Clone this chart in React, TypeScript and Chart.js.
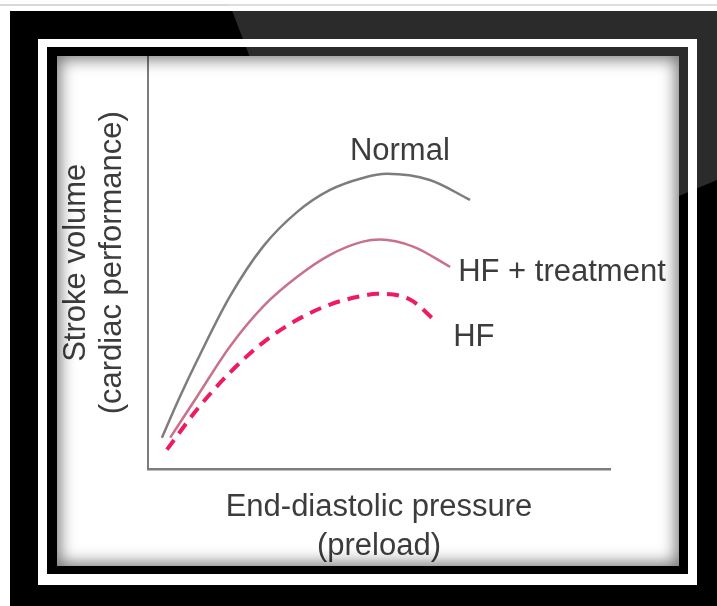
import React, { useEffect, useRef } from 'react';
import { Chart, registerables } from 'chart.js';

Chart.register(...registerables);

// ---- data ----
const seriesNames = ['Normal', 'HF + treatment', 'HF'];

const normalX = [3.0, 6.9, 10.6, 17.7, 24.9, 32.3, 39.4, 46.5, 51.7, 61.0, 69.7];
const normalY = [7.7, 17.6, 26.3, 41.8, 53.9, 62.3, 67.6, 70.5, 71.5, 70.0, 65.2];

const treatX = [4.8, 10.6, 17.7, 24.9, 32.3, 39.4, 46.5, 50.2, 57.4, 65.4];
const treatY = [7.7, 17.6, 29.7, 39.4, 46.6, 51.9, 55.1, 55.6, 53.9, 49.0];

const hfX = [4.1, 10.6, 17.7, 24.9, 32.3, 39.4, 46.5, 49.6, 56.7, 62.6];
const hfY = [4.8, 14.5, 23.4, 30.7, 36.2, 39.9, 42.0, 42.5, 41.1, 35.5];

const xAxisTitle = ['End-diastolic pressure', '(preload)'];
const yAxisTitle = ['Stroke volume', '(cardiac performance)'];

const FONT = '"Liberation Sans", Arial, Helvetica, sans-serif';
const TEXT = '#3c3c3c';

const toPoints = (xs: number[], ys: number[]) => xs.map((x, i) => ({ x, y: ys[i] }));

const labelSpecs = [
  { ds: 0, idx: 8, dx: 13, dy: -22, align: 'center' as CanvasTextAlign },
  { ds: 1, idx: 9, dx: 8, dy: 6, align: 'left' as CanvasTextAlign },
  { ds: 2, idx: 9, dx: 16, dy: 15, align: 'left' as CanvasTextAlign },
];

const curveLabels = {
  id: 'curveLabels',
  afterDatasetsDraw(chart: any) {
    const ctx = chart.ctx as CanvasRenderingContext2D;
    ctx.save();
    ctx.font = `31px ${FONT}`;
    ctx.fillStyle = TEXT;
    ctx.textBaseline = 'middle';
    labelSpecs.forEach((s) => {
      const pt = chart.getDatasetMeta(s.ds).data[s.idx];
      if (!pt) return;
      ctx.textAlign = s.align;
      ctx.fillText(seriesNames[s.ds], pt.x + s.dx, pt.y + s.dy);
    });
    ctx.restore();
  },
};

function FrankStarling() {
  const ref = useRef<HTMLCanvasElement | null>(null);
  useEffect(() => {
    if (!ref.current) return;
    const chart = new Chart(ref.current, {
      type: 'line',
      data: {
        datasets: [
          {
            label: seriesNames[0],
            data: toPoints(normalX, normalY),
            borderColor: '#7d7d7d',
            borderWidth: 2.5,
            pointRadius: 0,
            cubicInterpolationMode: 'monotone',
            fill: false,
          },
          {
            label: seriesNames[1],
            data: toPoints(treatX, treatY),
            borderColor: '#c8718b',
            borderWidth: 2.5,
            pointRadius: 0,
            cubicInterpolationMode: 'monotone',
            fill: false,
          },
          {
            label: seriesNames[2],
            data: toPoints(hfX, hfY),
            borderColor: '#ee1c5e',
            borderWidth: 4,
            borderDash: [12, 8],
            borderCapStyle: 'butt',
            pointRadius: 0,
            cubicInterpolationMode: 'monotone',
            fill: false,
          },
        ],
      },
      options: {
        responsive: false,
        animation: false,
        devicePixelRatio: 1,
        layout: { padding: { left: 0, right: 69, top: 0, bottom: 0 } },
        plugins: {
          legend: { display: false },
          tooltip: { enabled: false },
          title: { display: false },
        },
        scales: {
          x: {
            type: 'linear',
            min: 0,
            max: 100,
            ticks: { display: false },
            grid: { display: false, drawTicks: false },
            border: { display: true, color: '#7c7c7c', width: 2.5 },
            title: {
              display: true,
              text: xAxisTitle,
              color: TEXT,
              font: { family: FONT, size: 31, lineHeight: 39 / 31 },
              padding: { top: 18.5, bottom: 0 },
            },
          },
          y: {
            type: 'linear',
            min: 0,
            max: 100,
            ticks: { display: false },
            grid: { display: false, drawTicks: false },
            border: { display: true, color: '#7c7c7c', width: 2 },
            title: {
              display: true,
              text: yAxisTitle,
              color: TEXT,
              font: { family: FONT, size: 31, lineHeight: 36 / 31 },
              padding: { top: 1, bottom: 18 },
            },
          },
        },
      },
      plugins: [curveLabels],
    });
    return () => chart.destroy();
  }, []);
  return (
    <canvas
      ref={ref}
      width={622}
      height={510}
      style={{ position: 'absolute', left: 57, top: 56, width: 622, height: 510 }}
    />
  );
}

export default function App() {
  const abs = (l: number, t: number, w: number, h: number, extra: any = {}) => ({
    position: 'absolute' as const,
    left: l,
    top: t,
    width: w,
    height: h,
    ...extra,
  });
  return (
    <div style={abs(0, 0, 717, 606, { background: '#fff', overflow: 'hidden' })}>
      <div style={abs(0, 4, 717, 2, { background: '#d9d9d9' })} />
      <div style={abs(10, 11, 707, 595, { background: '#000' })} />
      <div style={abs(38, 39, 659, 546, { background: '#fff' })} />
      <div style={abs(47, 47, 641, 527, { background: '#000' })} />
      <div
        style={abs(0, 0, 717, 606, {
          background: 'rgba(255,255,255,0.17)',
          clipPath: 'polygon(228px 0px, 717px 0px, 717px 180px, 355px 332px)',
        })}
      />
      <div style={abs(57, 56, 622, 510, { background: '#fff' })} />
      <FrankStarling />
      <div
        style={abs(57, 56, 622, 510, {
          boxShadow: 'inset 0 0 16px 3px rgba(0,0,0,0.55)',
          pointerEvents: 'none',
        })}
      />
    </div>
  );
}
